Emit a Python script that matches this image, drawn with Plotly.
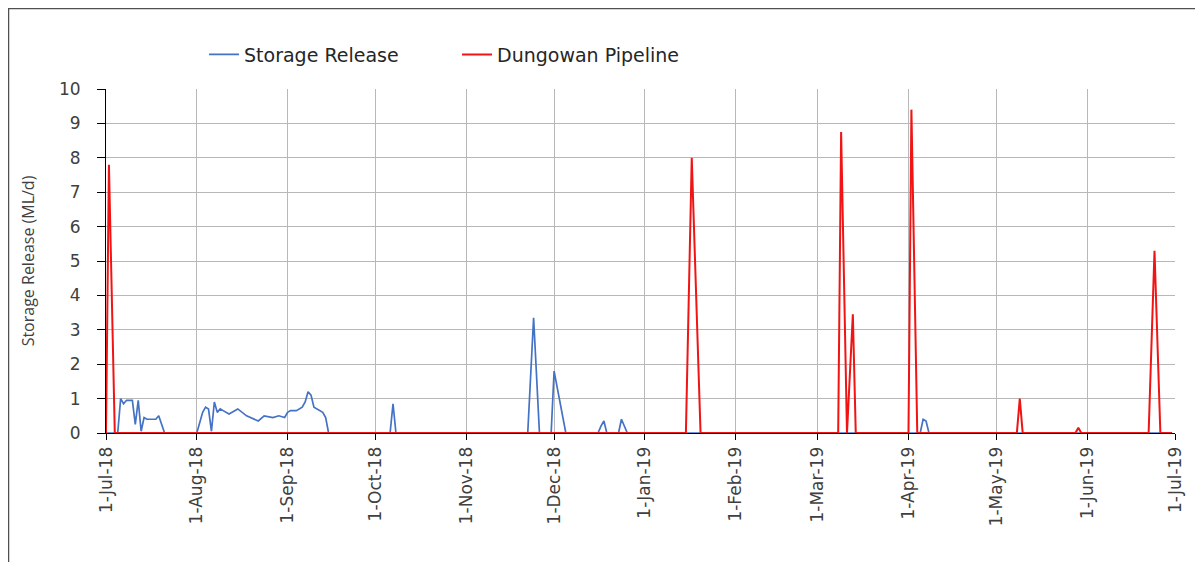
"""
Storage release vs Dungowan pipeline, 2018-19 (daily, ML/d).
"""
import plotly.graph_objects as go

COLOR_BLUE = '#4472C4'
COLOR_RED = '#F01414'
COLOR_GRID = '#b8b8b8'
COLOR_TEXT = '#404040'
FONT = 'DejaVu Sans'

# Storage Release - date / value (ML/d)
storage_dates = [
    '2018-07-01', '2018-07-05', '2018-07-06', '2018-07-07', '2018-07-08',
    '2018-07-09', '2018-07-10', '2018-07-11', '2018-07-12', '2018-07-13',
    '2018-07-14', '2018-07-15', '2018-07-16', '2018-07-17', '2018-07-18',
    '2018-07-19', '2018-07-21',
    '2018-08-01', '2018-08-02', '2018-08-03', '2018-08-04', '2018-08-05',
    '2018-08-06', '2018-08-07', '2018-08-08', '2018-08-09', '2018-08-10',
    '2018-08-12', '2018-08-15', '2018-08-18', '2018-08-22', '2018-08-24',
    '2018-08-27', '2018-08-29', '2018-08-31', '2018-09-01', '2018-09-02',
    '2018-09-04', '2018-09-06', '2018-09-07', '2018-09-08', '2018-09-09',
    '2018-09-10', '2018-09-11', '2018-09-12', '2018-09-13', '2018-09-14',
    '2018-09-15',
    '2018-10-06', '2018-10-07', '2018-10-08',
    '2018-11-22', '2018-11-24', '2018-11-26',
    '2018-11-30', '2018-12-01', '2018-12-05',
    '2018-12-16', '2018-12-17', '2018-12-18', '2018-12-19',
    '2018-12-23', '2018-12-24', '2018-12-26',
    '2019-04-05', '2019-04-06', '2019-04-07', '2019-04-08',
    '2019-06-30',
]
storage_values = [
    0, 0, 1.0, 0.85, 0.95,
    0.95, 0.95, 0.25, 0.95, 0.05,
    0.45, 0.4, 0.4, 0.4, 0.4,
    0.5, 0,
    0, 0.3, 0.6, 0.75, 0.7,
    0.05, 0.9, 0.6, 0.7, 0.65,
    0.55, 0.7, 0.5, 0.35, 0.5,
    0.45, 0.5, 0.45, 0.6, 0.65,
    0.65, 0.75, 0.9, 1.2, 1.1,
    0.75, 0.7, 0.65, 0.6, 0.45,
    0,
    0, 0.85, 0,
    0, 3.35, 0,
    0, 1.8, 0,
    0, 0.2, 0.35, 0,
    0, 0.4, 0,
    0, 0.4, 0.35, 0,
    0,
]

# Dungowan Pipeline - date / value (ML/d)
pipeline_dates = [
    '2018-07-01', '2018-07-02', '2018-07-04',
    '2019-01-15', '2019-01-17', '2019-01-20',
    '2019-03-08', '2019-03-09', '2019-03-11', '2019-03-13', '2019-03-14',
    '2019-04-01', '2019-04-02', '2019-04-04',
    '2019-05-08', '2019-05-09', '2019-05-10',
    '2019-05-28', '2019-05-29', '2019-05-30',
    '2019-06-22', '2019-06-24', '2019-06-26',
    '2019-06-30',
]
pipeline_values = [
    0, 7.8, 0,
    0, 8.0, 0,
    0, 8.75, 0, 3.45, 0,
    0, 9.4, 0,
    0, 1.0, 0,
    0, 0.15, 0,
    0, 5.3, 0,
    0,
]

fig = go.Figure()

fig.add_trace(go.Scatter(
    x=storage_dates, y=storage_values,
    name='Storage Release', mode='lines',
    line=dict(color=COLOR_BLUE, width=1.7),
))
fig.add_trace(go.Scatter(
    x=pipeline_dates, y=pipeline_values,
    name='Dungowan Pipeline', mode='lines',
    line=dict(color=COLOR_RED, width=2),
))

# chenar exterior (pagina are margine de 8px in browser)
fig.add_shape(
    type='rect', xref='paper', yref='paper',
    x0=-0.0912, x1=1.0215, y0=-0.45, y1=1.234,
    line=dict(color='#505050', width=1.5),
)

fig.update_layout(
    width=1203, height=562,
    paper_bgcolor='white', plot_bgcolor='white',
    margin=dict(l=98, r=36, t=81, b=137),
    font=dict(family=FONT, color=COLOR_TEXT, size=16),
    showlegend=True,
    legend=dict(
        orientation='h',
        x=0.0917, xanchor='left',
        y=1.1, yanchor='middle',
        entrywidth=208,
        font=dict(size=19, color='#262626'),
        bgcolor='rgba(0,0,0,0)',
    ),
)

fig.update_xaxes(
    type='date',
    range=['2018-07-01', '2019-07-01'],
    dtick='M1', tick0='2018-07-01',
    tickformat='%-d-%b-%y',
    tickangle=-90,
    tickfont=dict(size=17),
    ticks='outside', ticklen=6, tickcolor='black',
    showline=True, linecolor='black', linewidth=1,
    showgrid=True, gridcolor=COLOR_GRID, gridwidth=1,
    zeroline=False,
)
fig.update_yaxes(
    range=[0, 10],
    dtick=1,
    tickfont=dict(size=17),
    ticks='outside', ticklen=8, tickcolor='black',
    ticklabelstandoff=13,
    showline=True, linecolor='black', linewidth=1,
    showgrid=True, gridcolor=COLOR_GRID, gridwidth=1,
    zeroline=False,
    title=dict(text='Storage Release (ML/d)', font=dict(family='Open Sans', size=16),
               standoff=20),
)

fig.write_html('out.html')
